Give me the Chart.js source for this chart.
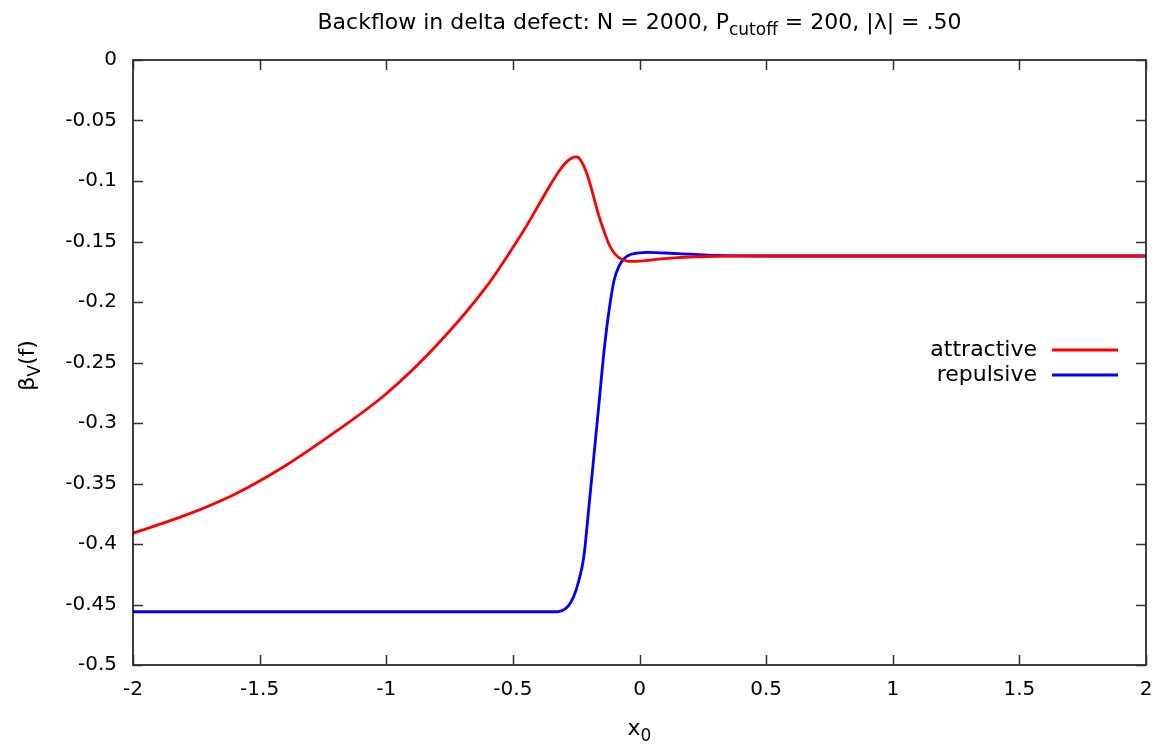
<!DOCTYPE html>
<html>
<head>
<meta charset="utf-8">
<script src="https://cdn.jsdelivr.net/npm/chart.js@4/dist/chart.umd.min.js"></script>
<style>
  html, body { margin: 0; padding: 0; background: #fff; }
  #wrap { width: 1159px; height: 746px; position: relative; }
</style>
</head>
<body>
<div id="wrap"><canvas id="chart"></canvas></div>
<script>
// values
const attractiveX = [-2, -1.8, -1.6, -1.4, -1.2, -1.0, -0.8, -0.6, -0.5, -0.45, -0.4, -0.35, -0.32, -0.3, -0.28, -0.26, -0.25, -0.24, -0.22, -0.2, -0.18, -0.16, -0.14, -0.12, -0.1, -0.08, -0.06, -0.04, 0, 0.05, 0.1, 0.15, 0.2, 0.3, 0.4, 1, 1.5, 2];
const attractiveY = [-0.391, -0.3768, -0.359, -0.3355, -0.3072, -0.2758, -0.2355, -0.186, -0.155, -0.1385, -0.1205, -0.1025, -0.0925, -0.087, -0.0828, -0.0802, -0.08, -0.0808, -0.0875, -0.099, -0.114, -0.129, -0.1415, -0.1525, -0.1595, -0.1635, -0.1655, -0.1664, -0.1662, -0.1652, -0.1642, -0.1634, -0.1628, -0.1622, -0.162, -0.162, -0.162, -0.162];

const repulsiveX = [-2, -0.4, -0.34, -0.32, -0.3, -0.28, -0.26, -0.24, -0.22, -0.2, -0.18, -0.16, -0.14, -0.12, -0.1, -0.08, -0.06, -0.04, -0.02, 0, 0.03, 0.1, 0.2, 0.3, 0.5, 1, 2];
const repulsiveY = [-0.456, -0.456, -0.456, -0.4558, -0.4545, -0.451, -0.4435, -0.4306, -0.4107, -0.370, -0.327, -0.284, -0.2405, -0.2066, -0.1818, -0.170, -0.164, -0.1612, -0.160, -0.1594, -0.159, -0.1595, -0.1605, -0.1615, -0.162, -0.162, -0.162];

const xTicks = { min: -2, max: 2, step: 0.5 };
const yTicks = { min: -0.5, max: 0, step: 0.05 };

const seriesNames = ["attractive", "repulsive"];
const seriesColors = ["#ff0000", "#0000ff"];

const FONT = "DejaVu Sans";
const LINE_W = 2.8;
const toPoints = (xs, ys) => xs.map((x, i) => ({ x, y: ys[i] }));
const fmt = (v) => String(Number(v.toFixed(2)));

// draw a run of text pieces, some of them subscripts
function drawRich(ctx, parts, x, y, size, align) {
  const subSize = Math.round(size * 0.78);
  const widths = parts.map(p => {
    ctx.font = `${p.sub ? subSize : size}px "${FONT}"`;
    return ctx.measureText(p.t).width;
  });
  const total = widths.reduce((a, b) => a + b, 0);
  let cx = align === "center" ? x - total / 2 : align === "right" ? x - total : x;
  ctx.textAlign = "left";
  ctx.textBaseline = "alphabetic";
  parts.forEach((p, i) => {
    ctx.font = `${p.sub ? subSize : size}px "${FONT}"`;
    ctx.fillText(p.t, cx, p.sub ? y + 6 : y);
    cx += widths[i];
  });
}

const framePlugin = {
  id: "frame",
  afterDraw(chart) {
    const { ctx, chartArea: a, scales } = chart;
    ctx.save();
    // frame
    ctx.strokeStyle = "#000";
    ctx.lineWidth = 1.5;
    ctx.strokeRect(a.left, a.top, a.right - a.left, a.bottom - a.top);
    // inward ticks on all four sides
    ctx.strokeStyle = "#333";
    const tl = 10;
    scales.x.ticks.forEach(t => {
      const px = Math.round(scales.x.getPixelForValue(t.value)) + 0.5;
      ctx.beginPath();
      ctx.moveTo(px, a.bottom); ctx.lineTo(px, a.bottom - tl);
      ctx.moveTo(px, a.top); ctx.lineTo(px, a.top + tl);
      ctx.stroke();
    });
    scales.y.ticks.forEach(t => {
      const py = Math.round(scales.y.getPixelForValue(t.value)) + 0.5;
      ctx.beginPath();
      ctx.moveTo(a.left, py); ctx.lineTo(a.left + tl, py);
      ctx.moveTo(a.right, py); ctx.lineTo(a.right - tl, py);
      ctx.stroke();
    });

    ctx.fillStyle = "#000";
    // title
    drawRich(ctx, [
      { t: "Backflow in delta defect: N = 2000, P" },
      { t: "cutoff", sub: true },
      { t: " = 200, |λ| = .50" },
    ], (a.left + a.right) / 2, 29, 22, "center");
    // x title
    drawRich(ctx, [{ t: "x" }, { t: "0", sub: true }], (a.left + a.right) / 2, 735, 22, "center");
    // y title
    ctx.save();
    ctx.translate(34, (a.top + a.bottom) / 2 + 3);
    ctx.rotate(-Math.PI / 2);
    drawRich(ctx, [{ t: "β" }, { t: "V", sub: true }, { t: "(f)" }], 0, 0, 22, "center");
    ctx.restore();

    // legend
    const rows = [350, 375];
    seriesNames.forEach((name, i) => {
      ctx.font = `22px "${FONT}"`;
      ctx.textAlign = "right";
      ctx.textBaseline = "middle";
      ctx.fillStyle = "#000";
      ctx.fillText(name, 1037, rows[i]);
      ctx.strokeStyle = seriesColors[i];
      ctx.lineWidth = LINE_W;
      ctx.beginPath();
      ctx.moveTo(1052, rows[i]); ctx.lineTo(1118, rows[i]);
      ctx.stroke();
    });
    ctx.restore();
  }
};

const datasets = [
  { label: seriesNames[0], data: toPoints(attractiveX, attractiveY) },
  { label: seriesNames[1], data: toPoints(repulsiveX, repulsiveY) },
].map((d, i) => ({
  ...d,
  borderColor: seriesColors[i],
  borderWidth: LINE_W,
  pointRadius: 0,
  fill: false,
  cubicInterpolationMode: "monotone",
}));

new Chart(document.getElementById("chart"), {
  type: "line",
  data: { datasets },
  options: {
    responsive: true,
    maintainAspectRatio: false,
    animation: false,
    layout: { padding: { top: 60, right: 13, left: 0, bottom: 0 } },
    plugins: { legend: { display: false }, tooltip: { enabled: false }, title: { display: false } },
    scales: {
      x: {
        type: "linear",
        min: xTicks.min, max: xTicks.max,
        afterFit: (s) => { s.height = 81; s.paddingLeft = 0; s.paddingRight = 0; },
        grid: { display: false, drawTicks: false },
        border: { display: false },
        ticks: {
          stepSize: xTicks.step, padding: 13, color: "#000",
          font: { family: FONT, size: 20 },
          maxRotation: 0, autoSkip: false,
          callback: (v) => fmt(v),
        },
      },
      y: {
        type: "linear",
        min: yTicks.min, max: yTicks.max,
        afterFit: (s) => { s.width = 133; s.paddingTop = 0; s.paddingBottom = 0; },
        grid: { display: false, drawTicks: false },
        border: { display: false },
        ticks: {
          stepSize: yTicks.step, padding: 16, color: "#000",
          font: { family: FONT, size: 20 },
          autoSkip: false,
          callback: (v) => fmt(v),
        },
      },
    },
  },
  plugins: [framePlugin],
});
</script>
</body>
</html>
